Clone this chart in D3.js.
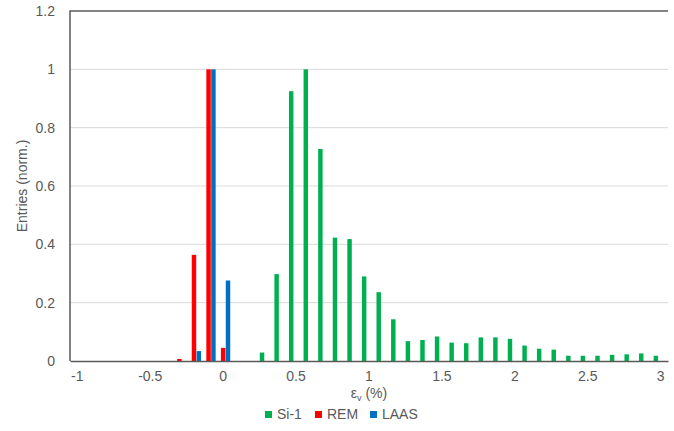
<!DOCTYPE html>
<html>
<head>
<meta charset="utf-8">
<script src="https://cdn.jsdelivr.net/npm/d3@7"></script>
<style>
  body { margin: 0; background: #fff; }
  svg { font-family: "Liberation Sans", Arial, sans-serif; }
</style>
</head>
<body>
<svg id="chart" width="674" height="431"></svg>
<script>
// strain bins (%), one per 0.1
var categories = ["-1.0","-0.9","-0.8","-0.7","-0.6","-0.5","-0.4","-0.3","-0.2","-0.1",
  "0.0","0.1","0.2","0.3","0.4","0.5","0.6","0.7","0.8","0.9",
  "1.0","1.1","1.2","1.3","1.4","1.5","1.6","1.7","1.8","1.9",
  "2.0","2.1","2.2","2.3","2.4","2.5","2.6","2.7","2.8","2.9","3.0"];

var si1 = [0,0,0,0,0,0,0,0,0,0,
  0,0,0,0.029,0.298,0.925,1.0,0.727,0.423,0.418,
  0.29,0.236,0.143,0.068,0.072,0.084,0.063,0.061,0.081,0.081,
  0.076,0.053,0.042,0.039,0.018,0.018,0.018,0.021,0.023,0.026,0.018];

var rem = [0,0,0,0,0,0,0,0.007,0.364,1.0,
  0.045,0,0,0,0,0,0,0,0,0,
  0,0,0,0,0,0,0,0,0,0,
  0,0,0,0,0,0,0,0,0,0,0];

var laas = [0,0,0,0,0,0,0,0,0.034,1.0,
  0.276,0,0,0,0,0,0,0,0,0,
  0,0,0,0,0,0,0,0,0,0,
  0,0,0,0,0,0,0,0,0,0,0];

var seriesNames = ["Si-1", "REM", "LAAS"];
var seriesColors = ["#00b050", "#ff0000", "#0070c0"];
var xTickLabels = {"-1.0":"-1","-0.5":"-0.5","0.0":"0","0.5":"0.5","1.0":"1","1.5":"1.5","2.0":"2","2.5":"2.5","3.0":"3"};
var yTicks = [0, 0.2, 0.4, 0.6, 0.8, 1, 1.2];

var margin = {top: 11, right: 6, bottom: 70, left: 70};
var width = 674 - margin.left - margin.right;
var height = 431 - margin.top - margin.bottom;

var svg = d3.select("#chart");
var g = svg.append("g").attr("transform", "translate(" + margin.left + "," + margin.top + ")");

var x = d3.scaleBand().domain(categories).range([0, width]).padding(0);
var xs = d3.scaleBand().domain(seriesNames).range([0, x.bandwidth()]).padding(0);
var y = d3.scaleLinear().domain([0, 1.2]).range([height, 0]);

// gridlines
g.selectAll(".grid").data(yTicks.slice(1, -1)).enter().append("line")
  .attr("x1", 0).attr("x2", width)
  .attr("y1", function(d){ return y(d); }).attr("y2", function(d){ return y(d); })
  .attr("stroke", "#d9d9d9").attr("stroke-width", 1);

// y axis labels
var yAxis = d3.axisLeft(y).tickValues(yTicks).tickSize(0).tickPadding(15)
  .tickFormat(function(d){ return d3.format("")(Math.round(d * 10) / 10); });
var yg = g.append("g").call(yAxis);
yg.select(".domain").remove();
yg.selectAll("text").attr("fill", "#595959").style("font-size", "14px");

// bars
var rows = [];
categories.forEach(function(c, i){
  [si1, rem, laas].forEach(function(arr, s){
    if (arr[i] > 0) rows.push({cat: c, series: seriesNames[s], color: seriesColors[s], value: arr[i]});
  });
});

g.selectAll(".bar").data(rows).enter().append("rect")
  .attr("x", function(d){ return x(d.cat) + xs(d.series) + 0.2; })
  .attr("width", xs.bandwidth() - 0.4)
  .attr("y", function(d){ return y(d.value); })
  .attr("height", function(d){ return height - y(d.value); })
  .attr("fill", function(d){ return d.color; });

// plot frame: left, top, bottom
g.append("path")
  .attr("d", "M0," + height + "V0H" + width)
  .attr("fill", "none").attr("stroke", "#595959").attr("stroke-width", 1.5);

var xAxis = d3.axisBottom(x).tickSize(0).tickPadding(10)
  .tickValues(Object.keys(xTickLabels))
  .tickFormat(function(d){ return xTickLabels[d]; });
var xg = g.append("g").attr("transform", "translate(0," + height + ")").call(xAxis);
xg.select(".domain").attr("stroke", "#595959").attr("stroke-width", 1.5);
xg.selectAll("text").attr("fill", "#595959").style("font-size", "14px");

// axis titles
var xt = svg.append("text")
  .attr("x", margin.left + width / 2).attr("y", 398)
  .attr("text-anchor", "middle").attr("fill", "#595959").style("font-size", "14px");
xt.append("tspan").text("\u03b5");
xt.append("tspan").attr("dy", 3).style("font-size", "9px").text("v");
xt.append("tspan").attr("dy", -3).text(" (%)");

svg.append("text")
  .attr("transform", "translate(27," + (margin.top + height / 2) + ") rotate(-90)")
  .attr("text-anchor", "middle").attr("fill", "#595959").style("font-size", "14px")
  .text("Entries (norm.)");

// legend
var legend = svg.append("g").attr("transform", "translate(265,411)");
var offsets = [0, 50, 105];
seriesNames.forEach(function(name, i){
  var lg = legend.append("g").attr("transform", "translate(" + offsets[i] + ",0)");
  lg.append("rect").attr("width", 7).attr("height", 7).attr("fill", seriesColors[i]);
  lg.append("text").attr("x", 12).attr("y", 7.5).attr("fill", "#595959")
    .style("font-size", "14px").text(name);
});
</script>
</body>
</html>
